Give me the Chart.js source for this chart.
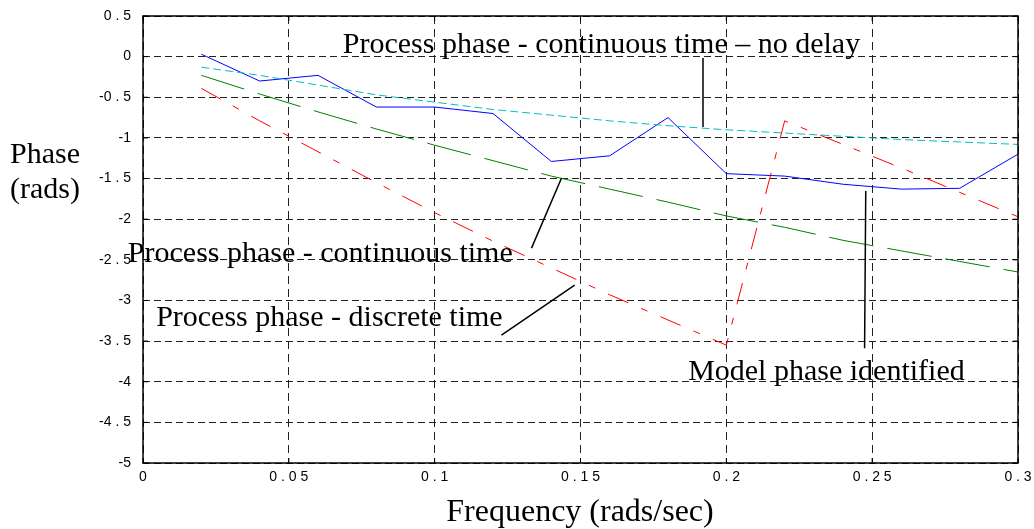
<!DOCTYPE html>
<html>
<head>
<meta charset="utf-8">
<script src="https://cdn.jsdelivr.net/npm/chart.js@4"></script>
<style>
  body { margin: 0; background: #fff; }
  #wrap { width: 1034px; height: 529px; }
</style>
</head>
<body>
<div id="wrap"><canvas id="chart" width="1034" height="529"></canvas></div>
<script>
'use strict';

let freq = [0.02, 0.04, 0.06, 0.08, 0.10, 0.12, 0.14, 0.16, 0.18, 0.20, 0.22, 0.24, 0.26, 0.28, 0.30];
let modelPhase = [0.03, -0.30, -0.23, -0.62, -0.62, -0.70, -1.29, -1.22, -0.75, -1.44, -1.47, -1.57, -1.63, -1.62, -1.20];
let noDelayPhase = [-0.13, -0.23, -0.35, -0.47, -0.56, -0.65, -0.72, -0.79, -0.85, -0.90, -0.94, -0.98, -1.02, -1.05, -1.08];
let contPhase = [-0.23, -0.46, -0.68, -0.89, -1.09, -1.28, -1.47, -1.63, -1.79, -1.96, -2.10, -2.26, -2.39, -2.52, -2.65];
let discPhase = [-0.39, -0.79, -1.17, -1.55, -1.92, -2.27, -2.60, -2.93, -3.24, -3.55, -0.79, -1.08, -1.37, -1.67, -1.97];

let xTickValues = [0, 0.05, 0.1, 0.15, 0.2, 0.25, 0.3];
let xTickLabels = ['0', '0 . 0 5', '0 . 1', '0 . 1 5', '0 . 2', '0 . 2 5', '0 . 3'];
let yTickValues = [0.5, 0, -0.5, -1, -1.5, -2, -2.5, -3, -3.5, -4, -4.5, -5];
let yTickLabels = ['0 . 5', '0', '-0 . 5', '-1', '-1 . 5', '-2', '-2 . 5', '-3', '-3 . 5', '-4', '-4 . 5', '-5'];

// annotation texts, anchored in data units (left edge, baseline)
let notes = [
  { text: 'Process phase - continuous time \u2013 no delay', x: 0.0685, y: 0.046 },
  { text: 'Process phase - continuous time', x: -0.0052, y: -2.525 },
  { text: 'Process phase - discrete time', x: 0.0045, y: -3.316 },
  { text: 'Model phase identified', x: 0.1869, y: -3.98 }
];
// leader lines, data units [x1, y1, x2, y2]
let leaders = [
  [0.192, -0.016, 0.192, -0.866],
  [0.1332, -2.356, 0.1435, -1.494],
  [0.1229, -3.427, 0.148, -2.811],
  [0.2478, -1.654, 0.2474, -3.587]
];

function pts(arr) {
  return freq.map(function (f, i) { return { x: f, y: arr[i] }; });
}

function pickLabel(values, labels, v) {
  for (let i = 0; i < values.length; i++) {
    if (Math.abs(values[i] - v) < 1e-6) return labels[i];
  }
  return '';
}

let serif = '"Liberation Serif", "Times New Roman", serif';

let extras = {
  id: 'extras',
  afterDraw: function (chart) {
    let ctx = chart.ctx;
    let a = chart.chartArea;
    let xs = chart.scales.x;
    let ys = chart.scales.y;
    ctx.save();

    // frame
    ctx.strokeStyle = '#000';
    ctx.lineWidth = 1.5;
    ctx.setLineDash([]);
    ctx.strokeRect(a.left, a.top, a.right - a.left, a.bottom - a.top);

    // inward ticks on all four sides
    ctx.lineWidth = 1;
    ctx.beginPath();
    yTickValues.forEach(function (v) {
      let py = ys.getPixelForValue(v);
      ctx.moveTo(a.left, py); ctx.lineTo(a.left + 5, py);
      ctx.moveTo(a.right, py); ctx.lineTo(a.right - 5, py);
    });
    xTickValues.forEach(function (v) {
      let px = xs.getPixelForValue(v);
      ctx.moveTo(px, a.bottom); ctx.lineTo(px, a.bottom - 5);
      ctx.moveTo(px, a.top); ctx.lineTo(px, a.top + 5);
    });
    ctx.stroke();

    // leader lines
    ctx.lineWidth = 1.5;
    ctx.beginPath();
    leaders.forEach(function (l) {
      ctx.moveTo(xs.getPixelForValue(l[0]), ys.getPixelForValue(l[1]));
      ctx.lineTo(xs.getPixelForValue(l[2]), ys.getPixelForValue(l[3]));
    });
    ctx.stroke();

    // annotation text
    ctx.fillStyle = '#000';
    ctx.font = '30px ' + serif;
    ctx.textAlign = 'left';
    ctx.textBaseline = 'alphabetic';
    notes.forEach(function (n) {
      ctx.fillText(n.text, xs.getPixelForValue(n.x), ys.getPixelForValue(n.y));
    });

    // axis titles
    ctx.fillText('Phase', 10, 163);
    ctx.fillText('(rads)', 10, 198);
    ctx.font = '32px ' + serif;
    ctx.textAlign = 'center';
    ctx.fillText('Frequency (rads/sec)', 580, 521);

    ctx.restore();
  }
};

let tickFont = { family: '"Liberation Sans", Arial, sans-serif', size: 14 };

let chartData = {
  type: 'line',
  data: {
    datasets: [
      {
        label: 'Process phase - discrete time',
        data: pts(discPhase),
        borderColor: '#ff0000',
        borderWidth: 1,
        borderDash: [22, 14, 7, 14],
        pointRadius: 0
      },
      {
        label: 'Process phase - continuous time',
        data: pts(contPhase),
        borderColor: '#008000',
        borderWidth: 1,
        borderDash: [45, 14],
        pointRadius: 0
      },
      {
        label: 'Process phase - continuous time - no delay',
        data: pts(noDelayPhase),
        borderColor: '#00bfbf',
        borderWidth: 1,
        borderDash: [8, 4],
        pointRadius: 0
      },
      {
        label: 'Model phase identified',
        data: pts(modelPhase),
        borderColor: '#0000ff',
        borderWidth: 1,
        pointRadius: 0
      }
    ]
  },
  options: {
    responsive: false,
    animation: false,
    devicePixelRatio: 1,
    layout: { padding: { top: 16, right: 16, left: 0, bottom: 0 } },
    plugins: {
      legend: { display: false },
      tooltip: { enabled: false }
    },
    scales: {
      x: {
        type: 'linear',
        min: 0,
        max: 0.3,
        afterBuildTicks: function (scale) {
          scale.ticks = xTickValues.map(function (v) { return { value: v }; });
        },
        afterFit: function (scale) {
          scale.height = 66;
          scale.paddingLeft = 0;
          scale.paddingRight = 0;
        },
        ticks: {
          color: '#000',
          font: tickFont,
          padding: 6,
          maxRotation: 0,
          autoSkip: false,
          callback: function (v) { return pickLabel(xTickValues, xTickLabels, v); }
        },
        grid: { color: '#222', lineWidth: 1, drawTicks: false },
        border: { display: false, dash: [8, 5] }
      },
      y: {
        type: 'linear',
        min: -5,
        max: 0.5,
        afterBuildTicks: function (scale) {
          scale.ticks = yTickValues.map(function (v) { return { value: v }; });
        },
        afterFit: function (scale) {
          scale.width = 143;
          scale.paddingTop = 0;
          scale.paddingBottom = 0;
        },
        ticks: {
          color: '#000',
          font: tickFont,
          padding: 12,
          autoSkip: false,
          callback: function (v) { return pickLabel(yTickValues, yTickLabels, v); }
        },
        grid: { color: '#222', lineWidth: 1, drawTicks: false },
        border: { display: false, dash: [7, 4] }
      }
    }
  },
  plugins: [extras]
};

let ctx = document.getElementById('chart');
new Chart(ctx, chartData);
</script>
</body>
</html>
